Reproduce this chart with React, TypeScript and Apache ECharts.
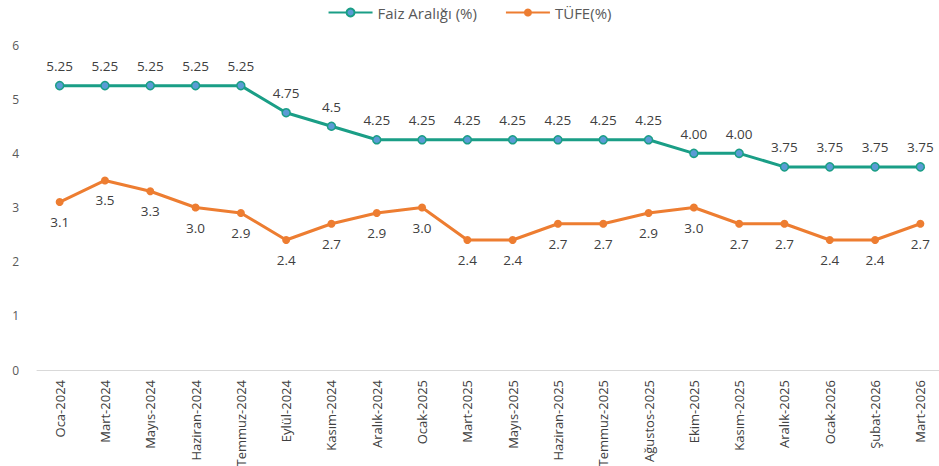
import React, { useEffect, useRef } from "react";
import * as echarts from "echarts";

const categories = [
  "Oca-2024", "Mart-2024", "Mayıs-2024", "Haziran-2024", "Temmuz-2024",
  "Eylül-2024", "Kasım-2024", "Aralık-2024", "Ocak-2025", "Mart-2025",
  "Mayıs-2025", "Haziran-2025", "Temmuz-2025", "Ağustos-2025", "Ekim-2025",
  "Kasım-2025", "Aralık-2025", "Ocak-2026", "Şubat-2026", "Mart-2026",
];
const faizValues = [5.25, 5.25, 5.25, 5.25, 5.25, 4.75, 4.5, 4.25, 4.25, 4.25, 4.25, 4.25, 4.25, 4.25, 4.0, 4.0, 3.75, 3.75, 3.75, 3.75];
const faizLabels = ["5.25", "5.25", "5.25", "5.25", "5.25", "4.75", "4.5", "4.25", "4.25", "4.25", "4.25", "4.25", "4.25", "4.25", "4.00", "4.00", "3.75", "3.75", "3.75", "3.75"];
const tufeValues = [3.1, 3.5, 3.3, 3.0, 2.9, 2.4, 2.7, 2.9, 3.0, 2.4, 2.4, 2.7, 2.7, 2.9, 3.0, 2.7, 2.7, 2.4, 2.4, 2.7];
const yTicks = [0, 1, 2, 3, 4, 5, 6];

const FONT = "'Open Sans', 'Noto Sans', sans-serif";

export default function App() {
  const ref = useRef<HTMLDivElement>(null);
  useEffect(() => {
    if (!ref.current) return;
    const chart = echarts.init(ref.current, null, { renderer: "svg" });
    chart.setOption({
      animation: false,
      textStyle: { fontFamily: FONT },
      legend: {
        top: 0,
        left: "center",
        itemWidth: 44,
        itemHeight: 10,
        itemGap: 28,
        textStyle: { fontSize: 15, color: "#595959", fontFamily: FONT },
        data: ["Faiz Aralığı (%)", "TÜFE(%)"],
      },
      grid: { left: 37, top: 45, width: 906, height: 325, outerBoundsMode: "none", containLabel: false },
      xAxis: {
        type: "category",
        data: categories,
        boundaryGap: true,
        axisLine: { lineStyle: { color: "#d9d9d9", width: 1 } },
        axisTick: { show: false },
        axisLabel: { rotate: 90, fontSize: 13, color: "#404040", margin: 10, interval: 0, fontFamily: FONT },
      },
      yAxis: {
        type: "value",
        min: yTicks[0],
        max: yTicks[yTicks.length - 1],
        interval: 1,
        splitLine: { show: false },
        axisLine: { show: false },
        axisTick: { show: false },
        axisLabel: { fontSize: 12, color: "#595959", margin: 18, fontFamily: FONT },
      },
      series: [
        {
          name: "Faiz Aralığı (%)",
          type: "line",
          data: faizValues,
          symbol: "circle",
          symbolSize: 8,
          lineStyle: { color: "#1a9e86", width: 3 },
          itemStyle: { color: "#5b9bd5", borderColor: "#1a9e86", borderWidth: 1.5 },
          label: {
            show: true,
            position: "top",
            distance: 8,
            fontSize: 13.5,
            color: "#404040",
            fontFamily: FONT,
            formatter: (p: any) => faizLabels[p.dataIndex],
          },
        },
        {
          name: "TÜFE(%)",
          type: "line",
          data: tufeValues,
          symbol: "circle",
          symbolSize: 8,
          lineStyle: { color: "#ed7d31", width: 3 },
          itemStyle: { color: "#ed7d31" },
          label: {
            show: true,
            position: "bottom",
            distance: 9,
            fontSize: 13.5,
            color: "#404040",
            fontFamily: FONT,
            formatter: (p: any) => Number(p.value).toFixed(1),
          },
        },
      ],
    });
    return () => chart.dispose();
  }, []);
  return <div ref={ref} style={{ position: "absolute", left: 0, top: 0, width: 939, height: 466 }} />;
}
